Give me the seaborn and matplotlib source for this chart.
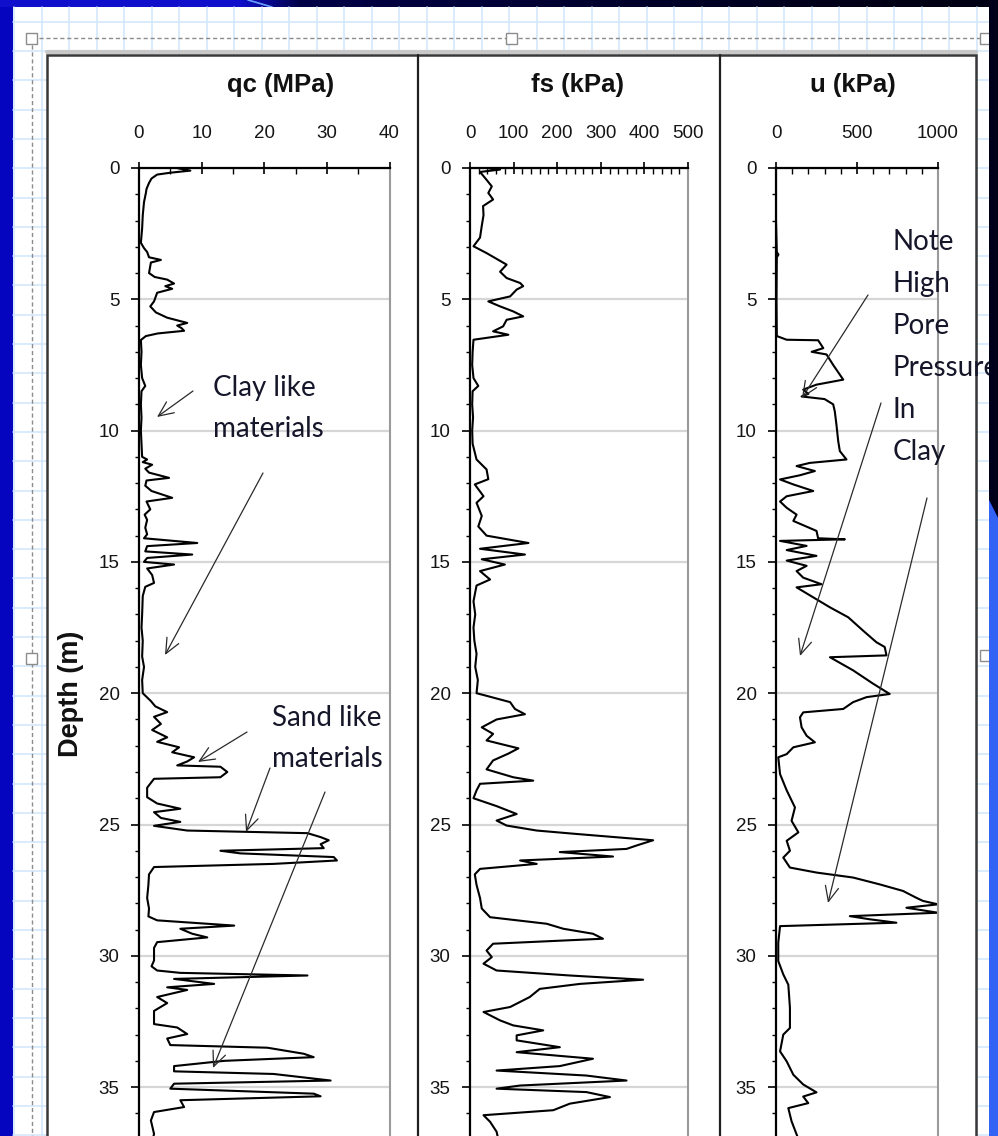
import numpy as np
import pandas as pd
import matplotlib
matplotlib.use("Agg")
import matplotlib.pyplot as plt
import matplotlib.font_manager as fm
import seaborn as sns
from matplotlib.ticker import MultipleLocator
from matplotlib.patches import Rectangle, Polygon

# ---------------- data ----------------
qc_depth = [0.0, 0.1, 0.18, 0.25, 0.4, 0.57, 0.8, 0.95, 1.3, 1.8, 2.3, 2.85, 3.05, 3.2, 3.4, 3.5, 3.6, 4.0, 4.15,
            4.25, 4.4, 4.5, 4.6, 4.75, 5.08, 5.27, 5.5, 5.7, 5.9, 6.0, 6.1, 6.2, 6.3, 6.4, 6.55, 7.0, 7.5, 8.0, 8.3,
            8.5, 9.0, 9.5, 10.0, 10.5, 11.0, 11.1, 11.2, 11.3, 11.45, 11.6, 11.8, 11.9, 12.1, 12.3, 12.56, 12.7,
            13.0, 13.2, 13.4, 13.7, 13.95, 14.1, 14.28, 14.4, 14.6, 14.72, 14.85, 15.0, 15.1, 15.25, 15.5, 15.8,
            15.95, 16.3, 17.0, 17.5, 18.0, 18.6, 19.0, 19.5, 20.0, 20.3, 20.5, 20.72, 20.9, 21.17, 21.4, 21.68,
            21.85, 22.06, 22.25, 22.44, 22.6, 22.75, 22.8, 23.0, 23.2, 23.26, 23.6, 23.96, 24.2, 24.4, 24.53,
            24.75, 24.9, 25.05, 25.23, 25.33, 25.48, 25.6, 25.75, 25.9, 26.0, 26.1, 26.24, 26.37, 26.5, 26.62,
            26.9, 27.3, 27.8, 28.2, 28.5, 28.65, 28.85, 28.97, 29.16, 29.3, 29.48, 29.7, 30.0, 30.18, 30.4, 30.56,
            30.65, 30.75, 30.88, 31.07, 31.2, 31.3, 31.57, 31.8, 32.1, 32.6, 32.73, 32.98, 33.15, 33.4, 33.5,
            33.73, 33.86, 34.0, 34.2, 34.4, 34.5, 34.75, 34.87, 35.06, 35.25, 35.35, 35.5, 35.76, 35.95, 36.27,
            36.78, 37.0]
qc_value = [6.0, 8.2, 5.0, 2.9, 2.0, 1.6, 1.2, 1.1, 0.8, 0.6, 0.5, 0.3, 0.8, 1.3, 1.6, 3.5, 1.9, 1.6, 2.5,
            4.5, 5.6, 4.2, 5.3, 2.9, 2.4, 1.8, 2.7, 4.5, 7.7, 6.1, 6.8, 7.2, 3.0, 1.1, 0.3, 0.4, 0.3, 0.5, 1.0,
            0.4, 0.3, 0.4, 0.3, 0.4, 0.5, 1.3, 0.6, 2.1, 1.0, 1.6, 4.8, 1.2, 1.0, 2.0, 5.3, 1.2,
            1.8, 0.9, 1.3, 1.0, 1.3, 0.8, 9.3, 1.3, 1.0, 8.5, 1.3, 0.8, 5.6, 1.3, 2.1, 2.4,
            1.0, 0.6, 0.5, 0.4, 0.6, 0.5, 0.8, 0.5, 0.6, 1.9, 2.6, 4.5, 2.4, 3.5, 2.1, 4.5,
            2.9, 6.4, 5.3, 8.8, 7.7, 6.1, 13.0, 14.1, 13.0, 2.4, 1.3, 1.3, 2.9, 6.6, 2.4,
            3.5, 6.6, 2.4, 7.7, 26.9, 29.0, 30.3, 29.0, 29.5, 13.0, 16.2, 31.1, 31.6, 21.5, 2.4,
            1.6, 1.5, 1.3, 1.6, 1.5, 2.9, 15.2, 6.6, 8.5, 10.9, 2.9, 2.4, 2.4, 2.4, 2.0, 2.9,
            6.6, 26.9, 5.6, 12.0, 4.5, 7.7, 2.9, 4.5, 2.4, 2.4, 6.1, 7.7, 4.5, 5.0, 20.5,
            26.3, 27.9, 13.6, 5.6, 5.6, 21.5, 30.6, 5.6, 5.0, 27.9, 29.0, 6.6, 7.2, 2.4, 1.9,
            2.4, 2.2]

fs_depth = [0.0, 0.06, 0.15, 0.45, 0.7, 0.95, 1.2, 1.45, 1.8, 2.2, 2.65, 2.98, 3.24, 3.5, 3.68, 3.95, 4.19,
            4.38, 4.5, 4.63, 4.89, 5.08, 5.27, 5.46, 5.65, 5.78, 6.03, 6.22, 6.35, 6.54, 7.0, 7.5, 8.0, 8.3, 8.5,
            9.0, 9.5, 10.0, 10.5, 11.1, 11.48, 11.85, 12.05, 12.5, 12.75, 13.25, 13.65, 14.0, 14.28, 14.5, 14.72,
            14.9, 15.1, 15.35, 15.67, 15.9, 16.5, 17.0, 17.5, 18.0, 18.5, 19.0, 19.5, 20.0, 20.1, 20.34, 20.6,
            20.8, 21.0, 21.3, 21.55, 21.8, 22.1, 22.3, 22.56, 22.9, 23.2, 23.33, 23.45, 23.7, 24.0, 24.3, 24.6,
            24.85, 25.04, 25.23, 25.36, 25.55, 25.6, 25.8, 25.93, 26.05, 26.22, 26.37, 26.5, 26.69, 26.9, 27.3,
            27.8, 28.2, 28.53, 28.78, 28.97, 29.16, 29.35, 29.54, 29.8, 30.05, 30.3, 30.56, 30.75, 30.91, 31.07,
            31.26, 31.57, 31.95, 32.14, 32.46, 32.65, 32.84, 33.03, 33.22, 33.48, 33.67, 33.92, 34.2, 34.37,
            34.56, 34.75, 34.94, 35.06, 35.19, 35.38, 35.63, 35.88, 36.07, 36.32, 36.7, 37.0]
fs_value = [40, 69, 23, 38, 50, 42, 53, 30, 31, 27, 23, 8, 38, 65, 84, 69, 84,
            115, 122, 107, 92, 42, 69, 99, 122, 84, 76, 53, 88, 8, 6, 5, 8, 19, 6,
            5, 7, 5, 6, 15, 38, 42, 11, 31, 15, 27, 19, 38, 134, 23, 126,
            27, 80, 23, 46, 15, 8, 12, 8, 10, 15, 12, 18, 15, 38, 92, 103,
            126, 61, 27, 53, 38, 111, 88, 53, 38, 99, 145, 23, 15, 8, 61, 107,
            61, 84, 153, 244, 382, 420, 382, 359, 206, 328, 115, 153, 23, 11, 15,
            23, 27, 46, 176, 214, 282, 305, 53, 38, 50, 31, 61, 229, 397, 252,
            160, 137, 92, 31, 69, 99, 168, 107, 107, 206, 107, 282, 206, 61,
            267, 359, 115, 61, 267, 321, 229, 191, 31, 46, 61, 65]

u_depth = [0.0, 2.0, 3.2, 3.3, 3.4, 5.0, 6.4, 6.54, 6.56, 6.86, 7.0, 7.1, 7.5, 8.06, 8.25, 8.44, 8.6, 8.7,
           8.8, 9.0, 9.27, 9.77, 10.4, 10.78, 11.1, 11.23, 11.35, 11.54, 11.7, 11.86, 12.05, 12.3, 12.5, 12.7,
           12.94, 13.2, 13.44, 13.82, 14.1, 14.14, 14.2, 14.39, 14.55, 14.77, 14.95, 15.15, 15.35, 15.6, 15.85,
           15.97, 16.35, 16.73, 17.11, 17.62, 18.06, 18.24, 18.56, 18.63, 19.13, 19.64, 20.03, 20.15, 20.34,
           20.6, 20.73, 20.92, 21.3, 21.62, 21.87, 22.06, 22.32, 22.44, 23.08, 23.7, 24.35, 24.86, 25.3, 25.62,
           26.0, 26.26, 26.64, 26.83, 27.02, 27.28, 27.53, 27.79, 27.91, 28.04, 28.17, 28.36, 28.49, 28.61,
           28.74, 28.87, 29.5, 30.2, 30.71, 31.1, 31.98, 32.75, 33.0, 33.64, 34.02, 34.53, 34.9, 35.2, 35.36,
           35.61, 35.8, 36.3, 36.8, 37.0]
u_value = [0, 0, 5, 15, 5, 3, 5, 66, 260, 292, 220, 312, 353, 415, 250, 168, 200, 158,
           300, 353, 363, 373, 384, 394, 435, 209, 127, 240, 148, 25, 107, 230, 66, 25,
           66, 127, 107, 250, 260, 425, 25, 189, 66, 250, 66, 189, 127, 168, 281,
           127, 230, 333, 446, 538, 620, 671, 682, 333, 476, 600, 702, 559, 476,
           415, 168, 148, 158, 189, 240, 107, 66, 14, 25, 66, 117, 96, 138, 66,
           86, 45, 86, 250, 476, 640, 784, 866, 907, 1000, 805, 1000, 456, 579,
           743, 25, 14, 14, 45, 76, 86, 86, 45, 25, 66, 107, 168, 250, 168,
           199, 76, 96, 127, 140]

panel_titles = ["qc (MPa)", "fs (kPa)", "u (kPa)"]
qc_ticks = [0, 10, 20, 30, 40]
fs_ticks = [0, 100, 200, 300, 400, 500]
u_ticks = [0, 500, 1000]
depth_ticks = [0, 5, 10, 15, 20, 25, 30, 35]
depth_label = "Depth (m)"

# ---------------- style ----------------
sns.set_theme(style="white")
names = {f.name for f in fm.fontManager.ttflist}
base_font = "Liberation Sans" if "Liberation Sans" in names else "DejaVu Sans"
note_font = "Lato" if "Lato" in names else ("Open Sans" if "Open Sans" in names else "DejaVu Sans")
plt.rcParams["font.family"] = [base_font, "DejaVu Sans"]

W, H = 998, 1136
fig = plt.figure(figsize=(W / 100, H / 100), dpi=100)
fig.patch.set_facecolor("#0505c0")

# ---------------- background (slide + spreadsheet) ----------------
bg = fig.add_axes([0, 0, 1, 1], zorder=0)
bg.set_xlim(0, W); bg.set_ylim(H, 0); bg.axis("off")
bg.add_patch(Rectangle((0, 0), W, H, fc="#0505c0", ec="none"))
xs = np.arange(W)
blue = np.array([0.06, 0.06, 0.80]); navy = np.array([0.0, 0.0, 0.28]); dark = np.array([0.0, 0.0, 0.08])
t1 = np.clip((xs - 240) / 60.0, 0, 1)
t2 = np.clip((xs - 300) / 600.0, 0, 1)
cols = (1 - t1)[:, None] * blue + t1[:, None] * ((1 - t2)[:, None] * navy + t2[:, None] * dark)
bg.imshow(cols[None, :, :], extent=(0, W, 7, 0), aspect="auto", zorder=1)
bg.plot([248, 272], [0, 7], color="#6aa0ff", lw=1.2, zorder=2)
bg.add_patch(Rectangle((13, 7), 976, H - 7, fc="white", ec="none", zorder=2))
for gx in np.arange(14.2, 989, 27.5):
    bg.plot([gx, gx], [7, H], color="#cfe6fa", lw=1.1, zorder=3)
for gy in np.arange(21.7, H, 29.3):
    bg.plot([13, 989], [gy, gy], color="#cfe6fa", lw=1.1, zorder=3)
bg.plot([32, 989], [38, 38], color="#8c8c8c", lw=1.0, ls=(0, (3, 2)), zorder=4)
bg.plot([32, 32], [38, H], color="#8c8c8c", lw=1.0, ls=(0, (3, 2)), zorder=4)
for hx, hy in [(32, 38), (512, 38), (986, 38), (32, 658), (986, 655)]:
    bg.add_patch(Rectangle((hx - 5.5, hy - 5.5), 11, 11, fc="white", ec="#8c8c8c", lw=1.0, zorder=5))
bg.plot([47, 976], [52, 52], color="#c8c8c8", lw=3, zorder=5)
bg.add_patch(Rectangle((47, 55), 929, H - 50, fc="white", ec="#383838", lw=1.8, zorder=6))
for dx in (418, 720):
    bg.plot([dx, dx], [55, H], color="#202020", lw=1.6, zorder=7)

# ---------------- panels ----------------
top_px = 168.0
px_per_m = 26.26
ymax = (H - top_px) / px_per_m
hfrac = (H - top_px) / H

panels = [
    dict(x=qc_value, y=qc_depth, left=139.0, right=389.5, xlim=(0, 40), ticks=qc_ticks, minor=5),
    dict(x=fs_value, y=fs_depth, left=470.0, right=688.0, xlim=(0, 500), ticks=fs_ticks, minor=20),
    dict(x=u_value, y=u_depth, left=776.0, right=938.0, xlim=(0, 1000), ticks=u_ticks, minor=100),
]

for p in panels:
    ax = fig.add_axes([p["left"] / W, 0, (p["right"] - p["left"]) / W, hfrac], zorder=1)
    ax.set_facecolor("none")
    df = pd.DataFrame({"v": p["x"], "d": p["y"]})
    sns.lineplot(data=df, x="v", y="d", sort=False, estimator=None, orient="y",
                 color="black", linewidth=1.5, ax=ax)
    ax.set_xlim(*p["xlim"])
    ax.set_ylim(ymax, 0)
    ax.set_xlabel(""); ax.set_ylabel("")
    ax.xaxis.tick_top()
    ax.set_xticks(p["ticks"])
    ax.xaxis.set_minor_locator(MultipleLocator(p["minor"]))
    ax.set_yticks(depth_ticks)
    ax.yaxis.set_minor_locator(MultipleLocator(1))
    ax.tick_params(axis="x", which="major", direction="inout", length=9, width=1.2, color="black",
                   labelsize=13.5, pad=14, labelcolor="#151515", top=True, bottom=False)
    ax.tick_params(axis="x", which="minor", direction="in", length=4, width=1.0, color="black",
                   top=True, bottom=False)
    ax.tick_params(axis="y", which="major", direction="out", length=6, width=1.2, color="black",
                   labelsize=13.5, pad=8, labelcolor="#151515", left=True)
    ax.tick_params(axis="y", which="minor", direction="out", length=3, width=1.0, color="black", left=True)
    ax.grid(False)
    ax.yaxis.grid(True, which="major", color="#d6d6d6", lw=1.6)
    ax.set_axisbelow(True)
    ax.spines["left"].set_color("black"); ax.spines["left"].set_linewidth(1.6)
    ax.spines["top"].set_color("black"); ax.spines["top"].set_linewidth(1.6)
    ax.spines["right"].set_color("#9a9a9a"); ax.spines["right"].set_linewidth(1.5)
    ax.spines["bottom"].set_visible(False)

# ---------------- overlay: titles, annotations ----------------
ov = fig.add_axes([0, 0, 1, 1], zorder=5)
ov.set_xlim(0, W); ov.set_ylim(H, 0); ov.axis("off"); ov.set_facecolor("none")

for title, cx in zip(panel_titles, [281, 578, 853]):
    ov.text(cx, 85, title, ha="center", va="center", fontsize=18.5, fontweight="bold", color="#111111")
ov.text(71, 694, depth_label, ha="center", va="center", rotation=90, fontsize=19.5,
        fontweight="bold", color="#111111")

note_kw = dict(fontsize=20, family=[note_font, "DejaVu Sans"], color="#16162a", va="baseline", ha="left")
ov.text(213, 396, "Clay like", **note_kw)
ov.text(213, 437, "materials", **note_kw)
ov.text(272, 726, "Sand like", **note_kw)
ov.text(272, 767, "materials", **note_kw)
for i, word in enumerate(["Note", "High", "Pore", "Pressure", "In", "Clay"]):
    ov.text(893, 250 + 42 * i, word, **note_kw)

arrow_kw = dict(arrowstyle="->,head_length=0.9,head_width=0.4", color="#2a2a2a", lw=0.9,
                shrinkA=0, shrinkB=0)
arrows = [((193, 391), (157, 417)), ((263, 473), (165, 655)), ((247, 732), (198, 762)),
          ((270, 768), (246, 832)), ((325, 792), (213, 1068)),
          ((868, 295), (802, 398)), ((881, 403), (800, 656)), ((927, 498), (828, 903))]
for tail, tip in arrows:
    ov.annotate("", xy=tip, xytext=tail, xycoords="data", textcoords="data", arrowprops=arrow_kw)

# ---------------- right slide edge ----------------
st = fig.add_axes([989 / W, 0, (W - 989) / W, 1], zorder=10)
st.set_xlim(989, W); st.set_ylim(H, 0); st.axis("off")
st.add_patch(Polygon([(989, 0), (W, 0), (W, 518), (989, 500)], closed=True, fc="#00001a", ec="none"))
st.add_patch(Polygon([(989, 500), (W, 518), (W, H), (989, H)], closed=True, fc="#3363f5", ec="none"))

fig.savefig("out.png", dpi=100)
